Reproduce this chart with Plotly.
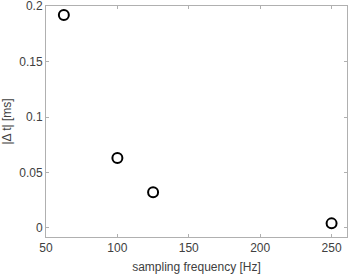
import plotly.graph_objects as go

freq = [62.5, 100, 125, 250]
dt = [0.192, 0.063, 0.032, 0.004]
xticks = [50, 100, 150, 200, 250]
yticks = [0, 0.05, 0.1, 0.15, 0.2]
yticklabels = ["0", "0.05", "0.1", "0.15", "0.2"]

FONT = "Liberation Sans, Arial, sans-serif"

fig = go.Figure(go.Scatter(
    x=freq, y=dt, mode="markers",
    marker=dict(symbol="circle-open", size=10, color="black", line=dict(width=2, color="black")),
))

axis_common = dict(
    showgrid=False, zeroline=False, showline=True, linecolor="#b0b0b0", linewidth=1,
    mirror="ticks", ticks="inside", ticklen=3, tickcolor="#b0b0b0", automargin=False,
    ticklabeloverflow="allow",
    tickfont=dict(family=FONT, size=12, color="#404040"),
)

fig.update_layout(
    width=350, height=276,
    margin=dict(l=46, r=3, t=6, b=39),
    paper_bgcolor="white", plot_bgcolor="white",
    showlegend=False,
    xaxis=dict(range=[50, 260.8], tickvals=xticks, ticktext=[str(v) for v in xticks],
               title=dict(text="sampling frequency [Hz]", standoff=8,
                          font=dict(family=FONT, size=12, color="#404040")),
               **axis_common),
    yaxis=dict(range=[-0.0083, 0.2002], tickvals=yticks, ticktext=yticklabels,
               title=dict(text="|Δ t| [ms]", standoff=10,
                          font=dict(family=FONT, size=12, color="#404040")),
               **axis_common),
)

fig.write_html("out.html", config={"displayModeBar": False},
               post_script="document.body.style.margin='0';")
